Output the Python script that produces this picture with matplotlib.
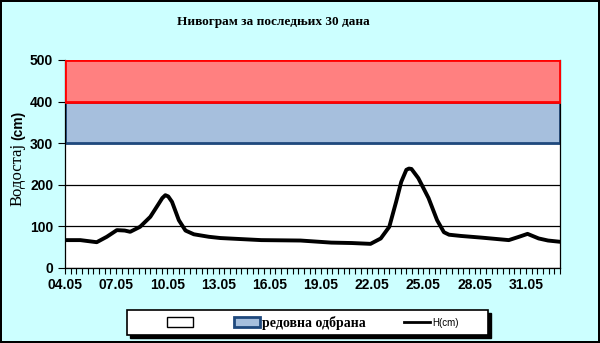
import numpy as np
import matplotlib.pyplot as plt
from matplotlib.patches import Patch, Rectangle
from matplotlib.lines import Line2D

# water level H(cm), x = days since 04.05
days = [0.0, 0.9, 1.86, 2.45, 3.04, 3.5, 3.82, 4.4, 5.0, 5.5, 5.7, 5.88, 6.05,
        6.27, 6.67, 7.06, 7.55, 8.43, 9.1, 11.5, 13.8, 15.6, 16.8, 17.35, 17.9,
        18.5, 19.0, 19.4, 19.7, 20.0, 20.15, 20.3, 20.7, 21.3, 21.8, 22.2,
        22.5, 23.2, 24.4, 26.0, 26.6, 27.1, 27.75, 28.3, 29.0]
level = [67, 67, 62, 75, 91, 90, 87, 99, 123, 155, 168, 175, 172,
         159, 115, 90, 81, 75, 72, 67, 66, 61, 60, 59, 58,
         71, 99, 159, 207, 236, 239, 238, 216, 168, 115, 86,
         80, 77, 73, 67, 75, 82, 71, 66, 63]

tick_days = [0, 3, 6, 9, 12, 15, 18, 21, 24, 27]
tick_labels = ['04.05', '07.05', '10.05', '13.05', '16.05',
               '19.05', '22.05', '25.05', '28.05', '31.05']

# defence thresholds (cm)
regular_low, regular_high = 300, 400
emergency_low, emergency_high = 400, 500
n_days = 29

fig = plt.figure(figsize=(6, 3.43), dpi=100)
fig.patch.set_facecolor('#CCFFFF')
fig.patch.set_edgecolor('black')
fig.patch.set_linewidth(1.5)

ax = fig.add_axes([0.1083, 0.2187, 0.825, 0.6064])
ax.set_facecolor('white')

xr = [0, n_days]
ax.fill_between(xr, regular_low, regular_high, facecolor='#A6BFDD',
                edgecolor='#1F497D', linewidth=2, zorder=2)
ax.fill_between(xr, emergency_low, emergency_high, facecolor='#FF8080',
                edgecolor='#FF0000', linewidth=2, zorder=3)

ax.plot(days, level, color='black', linewidth=2.8, solid_joinstyle='round',
        solid_capstyle='round', zorder=4)

ax.set_xlim(0, n_days)
ax.set_ylim(0, 500)
ax.set_yticks(range(0, 501, 100))
ax.yaxis.grid(True, color='black', linewidth=0.9, zorder=1)
ax.set_axisbelow(True)
ax.set_xticks(tick_days)
ax.set_xticklabels(tick_labels)
ax.set_xticks(np.arange(0, n_days + 0.01, 1 / 3), minor=True)
ax.tick_params(axis='x', which='both', length=4, width=0.8, direction='out')
ax.tick_params(axis='y', length=5, width=0.8, direction='out')
for lab in ax.get_xticklabels() + ax.get_yticklabels():
    lab.set_fontfamily('Liberation Sans')
    lab.set_fontweight('bold')
    lab.set_fontsize(10)
ax.spines['top'].set_visible(False)
for s in ['left', 'right', 'bottom']:
    ax.spines[s].set_linewidth(0.9)

fig.text(0.455, 0.935, 'Нивограм за последњих 30 дана', ha='center', va='center',
         fontfamily='Liberation Serif', fontweight='bold', fontsize=9.5)
fig.text(0.030, 0.492, 'Водостај', rotation=90, ha='center', va='center',
         fontfamily='Liberation Serif', fontsize=12)
fig.text(0.030, 0.635, '(cm)', rotation=90, ha='center', va='center',
         fontfamily='Liberation Sans', fontweight='bold', fontsize=10)

# legend box with black shadow
fig.add_artist(Rectangle((130 / 600, 1 - 338 / 343), 361 / 600, 25 / 343,
                         transform=fig.transFigure, facecolor='black',
                         edgecolor='black', zorder=5))
fig.add_artist(Rectangle((127 / 600, 1 - 335 / 343), 361 / 600, 25 / 343,
                         transform=fig.transFigure, facecolor='white',
                         edgecolor='black', linewidth=1.2, zorder=6))

handles = [Patch(facecolor='white', edgecolor='black', linewidth=1),
           Patch(facecolor='#A6BFDD', edgecolor='#1F497D', linewidth=2),
           Line2D([], [], color='black', linewidth=2)]
labels = ['', 'редовна одбрана', 'H(cm)']
leg = fig.legend(handles, labels, loc='center left',
                 bbox_to_anchor=(167 / 600, 1 - 322.5 / 343),
                 ncol=3, frameon=False, borderpad=0, borderaxespad=0,
                 handlelength=1.9, handleheight=0.7, handletextpad=0.15,
                 columnspacing=2.75, prop={'family': 'Liberation Serif',
                                           'weight': 'bold', 'size': 10})
leg.set_zorder(7)
leg.get_texts()[2].set_fontfamily('Liberation Sans')
leg.get_texts()[2].set_fontweight('normal')
leg.get_texts()[2].set_fontsize(7)

fig.savefig('out.png', dpi=100, facecolor=fig.get_facecolor(),
            edgecolor=fig.get_edgecolor())
